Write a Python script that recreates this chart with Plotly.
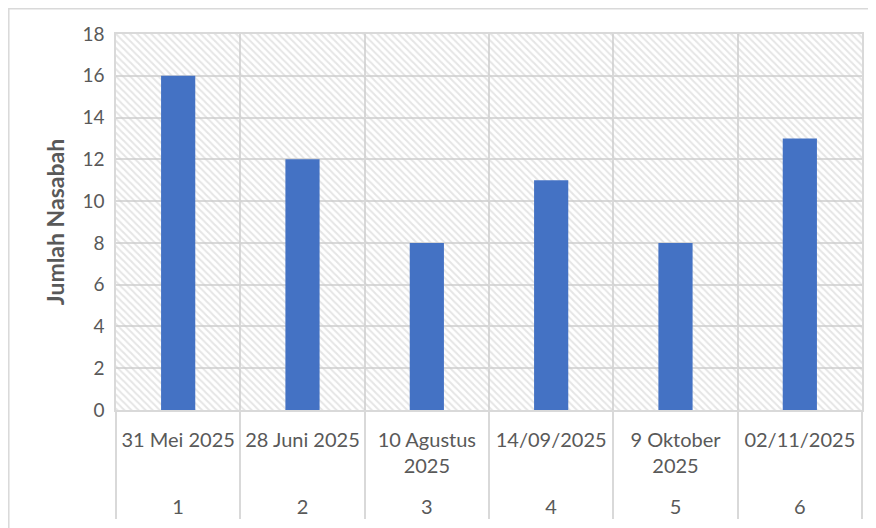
import plotly.graph_objects as go

urutan = ["\u00a0<br>1", "\u00a0<br>2", "\u00a0<br>3", "\u00a0<br>4", "\u00a0<br>5", "\u00a0<br>6"]
tanggal = ["31 Mei 2025", "28 Juni 2025", "10 Agustus<br>2025", "14/09/2025", "9 Oktober<br>2025", "02/11/2025"]
jumlah_nasabah = [16, 12, 8, 11, 8, 13]
y_max = 18

FONT = "Lato"
GREY_TXT = "#595959"
GRID = "#d9d9d9"

fig = go.Figure()

# hatched plot background (one full-width patterned bar per category)
fig.add_trace(go.Bar(
    x=[urutan, tanggal],
    y=[y_max] * len(urutan),
    width=1,
    marker=dict(color="rgba(0,0,0,0)", line=dict(width=0),
                pattern=dict(shape="\\", fgcolor="#cccccc", bgcolor="rgba(0,0,0,0)", size=5, solidity=0.4)),
    hoverinfo="skip",
    showlegend=False,
))

fig.add_trace(go.Bar(
    x=[urutan, tanggal],
    y=jumlah_nasabah,
    width=0.275,
    marker=dict(color="#4472c4", line=dict(width=0)),
    showlegend=False,
))

fig.update_layout(
    width=868, height=520,
    margin=dict(l=108, r=14, t=26, b=118, autoexpand=False),
    paper_bgcolor="white",
    plot_bgcolor="white",
    barmode="overlay",
    font=dict(family=FONT, size=19, color=GREY_TXT),
    xaxis=dict(
        type="multicategory",
        tickson="boundaries",
        showgrid=True, gridcolor=GRID, gridwidth=1.5,
        showline=True, linecolor=GRID, linewidth=1.5, mirror=True,
        showdividers=True, dividercolor=GRID, dividerwidth=1.5,
        ticks="", ticklabelstandoff=11,
        tickfont=dict(family=FONT, size=20, color=GREY_TXT),
    ),
    yaxis=dict(
        range=[0, y_max], dtick=2,
        showgrid=True, gridcolor=GRID, gridwidth=1.5,
        zeroline=False,
        showline=True, linecolor=GRID, linewidth=1.5, mirror=True,
        ticks="", ticklabelstandoff=6,
        tickfont=dict(family=FONT, size=19, color=GREY_TXT),
        title=dict(text="<b>Jumlah Nasabah</b>", font=dict(family=FONT, size=23, color=GREY_TXT), standoff=11),
    ),
    shapes=[dict(type="rect", xref="paper", yref="paper",
                 x0=-107.2 / 746, x1=1.2, y0=-0.5, y1=(402 - 0.8) / 376,
                 line=dict(color=GRID, width=1.5), fillcolor="rgba(0,0,0,0)", layer="below")],
)

fig.write_html("out.html")
